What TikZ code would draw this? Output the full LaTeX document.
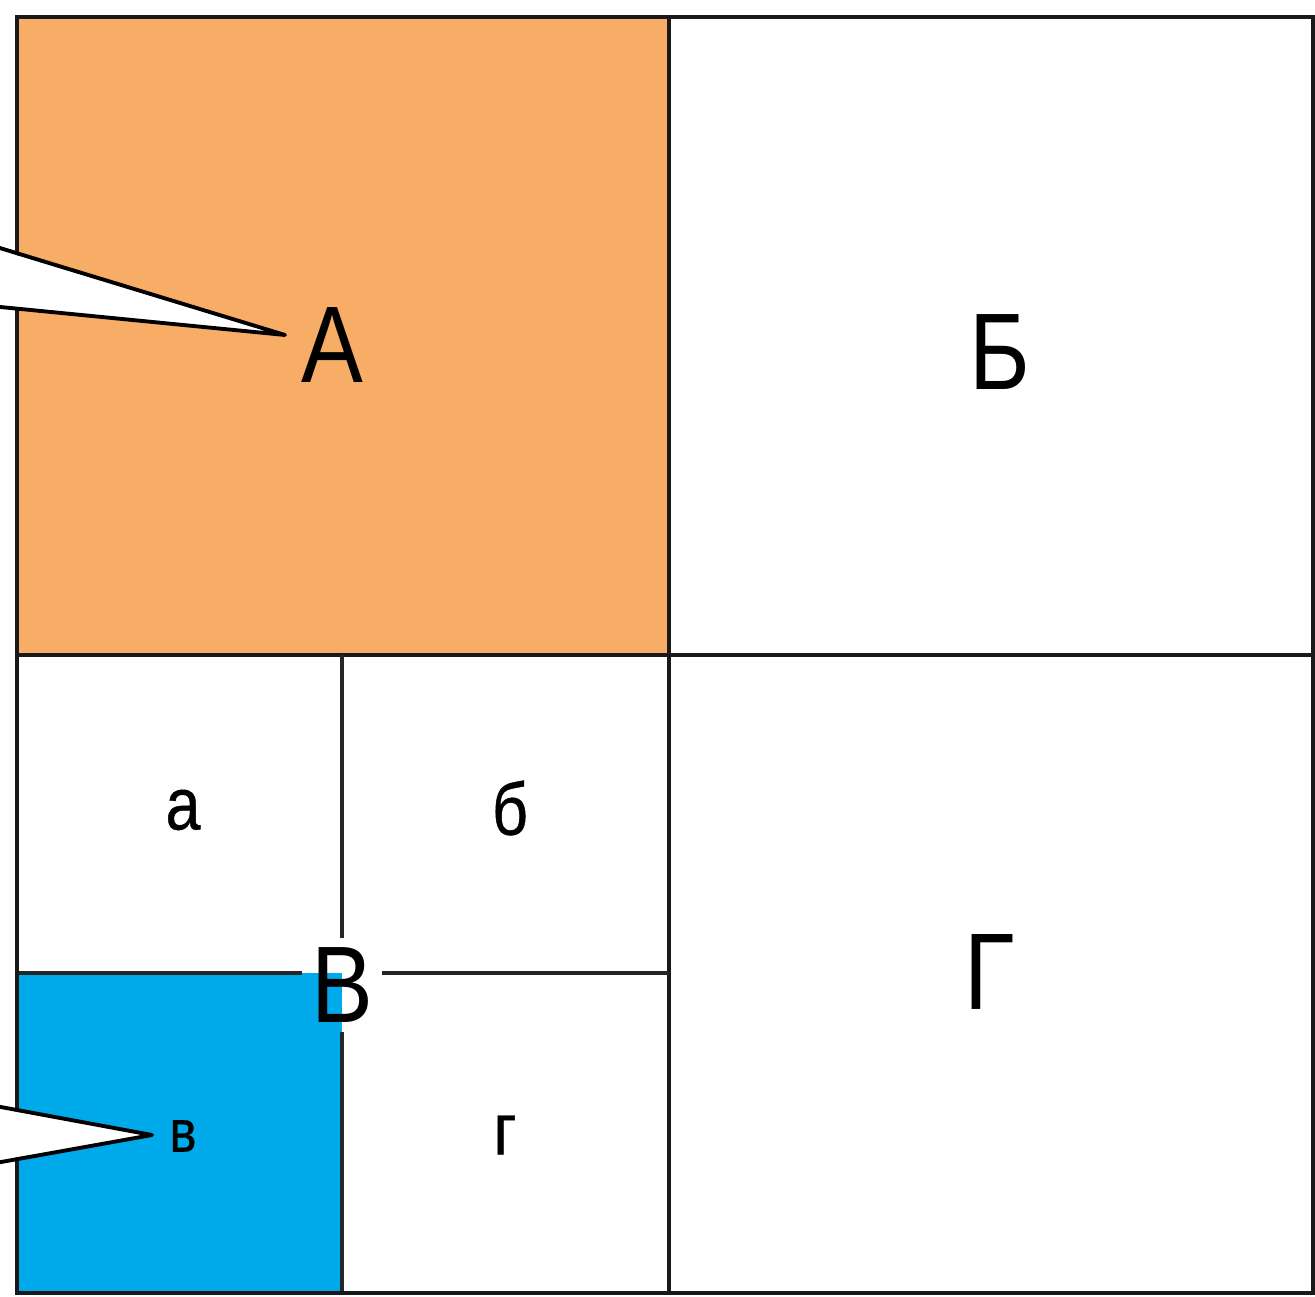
\documentclass[tikz,border=0pt]{standalone}
\usepackage{fontspec}
\setmainfont{Liberation Sans}
\definecolor{orangeA}{HTML}{F8AD66}
\definecolor{cyanB}{HTML}{00A9E9}
\begin{document}
\begin{tikzpicture}[x=0.02cm,y=-0.02cm,
  frame/.style={line width=2.4pt,draw=black!90},
  inner/.style={line width=1.8pt,draw=black!85},
  pointer/.style={draw=black,line width=2.2pt,line join=round},
  big/.style={font=\fontsize{62}{62}\selectfont\addfontfeature{FakeStretch=0.85},inner sep=0pt},
  small/.style={font=\fontsize{42}{42}\selectfont\addfontfeature{FakeStretch=0.85,FakeBold=0.6},inner sep=0pt},
  tiny/.style={font=\fontsize{34}{34}\selectfont\addfontfeature{FakeStretch=0.85,FakeBold=0.6},inner sep=0pt}]
\useasboundingbox (0,0) rectangle (1315,1297);
% fills
\fill[orangeA] (17,17) rectangle (669,655);
\fill[cyanB] (17,973) rectangle (342,1293);
% coordinates
\coordinate (TL) at (17,17);
\coordinate (BR) at (1313,1293);
\coordinate (hl) at (17,973);
\coordinate (hr) at (669,973);
\coordinate (vt) at (342,655);
\coordinate (vb) at (342,1293);
% grid lines
\draw[frame] (669,17) -- (669,1293);
\draw[frame] (17,655) -- (1313,655);
% labels
\node[big] (A) at (332,345) {А};
\node[big] (B) at (1000,352) {Б};
\node[big] (G) at (990,972) {Г};
\node[big,inner sep=5pt] (V) at (342,985) {В};
\node[small] (a) at (183,810) {а};
\node[small] (b) at (510,808) {б};
\node[tiny] (v) at (183,1136) {в};
\node[small] (g) at (505,1135) {г};
% inner lines broken around В
\draw[inner] (vt) -- (V.north);
\draw[inner] (V.south) -- (vb);
\draw[inner] (V.east |- hr) -- (hr);
\draw[inner] (hl) -- (V.west |- hl);
% outer frame
\draw[frame] (TL) rectangle (BR);
% pointers
\coordinate (pa) at (285,335);
\coordinate (pv) at (152,1135);
\fill[white] (-10,247) -- (280,335) -- (-10,304) -- cycle;
\draw[pointer] (-10,245) -- (pa) -- (-10,306);
\fill[white] (-10,1107) -- (148,1135) -- (-10,1162) -- cycle;
\draw[pointer] (-10,1105) -- (pv) -- (-10,1164);
\end{tikzpicture}
\end{document}
